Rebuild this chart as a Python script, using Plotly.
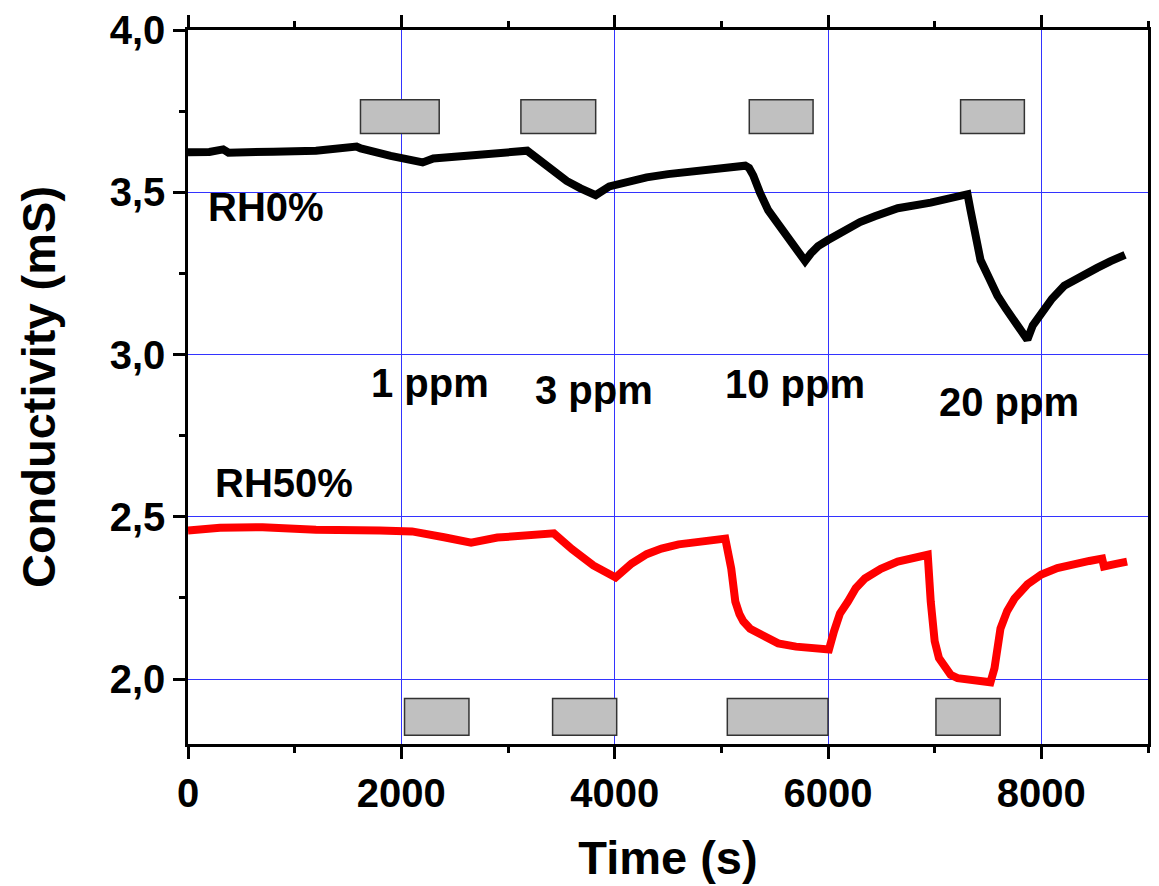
import plotly.graph_objects as go

# ---- data ----
t_rh0 = [0, 200, 330, 380, 800, 1200, 1580, 1620, 1900, 2200, 2300, 2600, 3000, 3180, 3300, 3420, 3550, 3680,
         3822, 3950, 4100, 4300, 4500, 4800, 5100, 5224, 5260, 5299, 5364, 5439, 5520, 5598, 5690, 5785, 5840, 5907, 6000,
         6100, 6187, 6300, 6439, 6654, 6963, 7280, 7308, 7336, 7383, 7430, 7510, 7589, 7670, 7748, 7869, 7920, 8000,
         8100, 8215, 8370, 8523, 8650, 8785]
c_rh0 = [3.623, 3.624, 3.632, 3.622, 3.625, 3.628, 3.641, 3.635, 3.612, 3.592, 3.604, 3.613, 3.622, 3.628, 3.598, 3.566, 3.535, 3.512,
         3.491, 3.518, 3.532, 3.546, 3.556, 3.568, 3.578, 3.582, 3.575, 3.552, 3.497, 3.445, 3.408, 3.374, 3.332, 3.288, 3.312, 3.334, 3.353,
         3.372, 3.390, 3.408, 3.426, 3.451, 3.468, 3.491, 3.494, 3.445, 3.374, 3.291, 3.236, 3.181, 3.140, 3.107, 3.046, 3.090, 3.129,
         3.172, 3.212, 3.243, 3.267, 3.288, 3.307]

t_rh50 = [0, 300, 700, 1200, 1800, 2100, 2400, 2654, 2900, 3200, 3430, 3600, 3800, 4009, 4100, 4159, 4300,
          4439, 4600, 4757, 4900, 5037, 5093, 5131, 5170, 5206, 5270, 5346, 5440, 5533, 5700, 5850, 6009, 6056, 6112,
          6187, 6260, 6346, 6495, 6654, 6813, 6935, 6963, 7000, 7040, 7093, 7150, 7215, 7350, 7523, 7561, 7617,
          7680, 7748, 7870, 8000, 8150, 8308, 8450, 8570, 8587, 8700, 8804]
c_rh50 = [2.458, 2.466, 2.468, 2.460, 2.458, 2.455, 2.437, 2.420, 2.436, 2.444, 2.449, 2.400, 2.350, 2.313, 2.340, 2.356, 2.385,
          2.402, 2.415, 2.423, 2.429, 2.433, 2.340, 2.239, 2.200, 2.178, 2.155, 2.141, 2.124, 2.110, 2.100, 2.095, 2.091, 2.147, 2.202,
          2.239, 2.280, 2.310, 2.340, 2.362, 2.374, 2.383, 2.239, 2.117, 2.065, 2.034, 2.013, 2.003, 1.996, 1.990, 2.034, 2.156,
          2.210, 2.248, 2.292, 2.322, 2.342, 2.356, 2.364, 2.371, 2.347, 2.355, 2.362]

# gas exposure windows (grey boxes)
top_box_start = [1617, 3121, 5262, 7243]
top_box_end = [2355, 3822, 5860, 7841]
top_box_y = [3.681, 3.785]
bot_box_start = [2030, 3418, 5056, 7012]
bot_box_end = [2634, 4019, 6000, 7614]
bot_box_y = [1.827, 1.940]

conc_labels = ["1 ppm", "3 ppm", "10 ppm", "20 ppm"]
conc_x = [2271, 3804, 5692, 7701]
conc_y = [2.911, 2.890, 2.908, 2.853]
rh_labels = ["RH0%", "RH50%"]
rh_x = [729, 897]
rh_y = [3.454, 2.604]

FONT = "Liberation Sans"

fig = go.Figure()
fig.add_trace(go.Scatter(x=t_rh0, y=c_rh0, mode="lines", line=dict(color="black", width=8),
                         showlegend=False))
fig.add_trace(go.Scatter(x=t_rh50, y=c_rh50, mode="lines", line=dict(color="#ff0000", width=8),
                         showlegend=False))

for s, e in zip(top_box_start, top_box_end):
    fig.add_shape(type="rect", xref="x", yref="y", x0=s, x1=e, y0=top_box_y[0], y1=top_box_y[1],
                  fillcolor="#c0c0c0", line=dict(color="#333333", width=1.5), layer="above")
for s, e in zip(bot_box_start, bot_box_end):
    fig.add_shape(type="rect", xref="x", yref="y", x0=s, x1=e, y0=bot_box_y[0], y1=bot_box_y[1],
                  fillcolor="#c0c0c0", line=dict(color="#333333", width=1.5), layer="above")

for txt, x, y in zip(conc_labels + rh_labels, conc_x + rh_x, conc_y + rh_y):
    fig.add_annotation(x=x, y=y, xref="x", yref="y", text=txt, showarrow=False,
                       font=dict(family=FONT, size=40, color="black", weight="bold"),
                       xanchor="center", yanchor="middle")

fig.update_layout(
    width=1159, height=886,
    margin=dict(l=188, r=8, t=26, b=142),
    paper_bgcolor="white", plot_bgcolor="white",
    separators=", ",
    font=dict(family=FONT, color="black"),
)
fig.update_xaxes(
    range=[0, 9000], tick0=0, dtick=2000,
    showline=True, linecolor="black", linewidth=2.5, mirror="ticks",
    ticks="outside", ticklen=12, tickwidth=2.5, tickcolor="black",
    minor=dict(dtick=1000, ticks="outside", ticklen=6, tickwidth=2.5, tickcolor="black", showgrid=False),
    showgrid=True, gridcolor="#3333ff", gridwidth=1, zeroline=False,
    tickfont=dict(family=FONT, size=40, color="black", weight="bold"),
    title=dict(text="Time (s)", font=dict(family=FONT, size=47, color="black", weight="bold"), standoff=28),
)
fig.update_yaxes(
    range=[1.8, 4.0], tick0=0, dtick=0.5, tickformat=".1f",
    showline=True, linecolor="black", linewidth=2.5, mirror=True,
    ticks="outside", ticklen=12, tickwidth=2.5, tickcolor="black",
    minor=dict(dtick=0.25, ticks="outside", ticklen=6, tickwidth=2.5, tickcolor="black", showgrid=False),
    showgrid=True, gridcolor="#3333ff", gridwidth=1, zeroline=False,
    tickfont=dict(family=FONT, size=40, color="black", weight="bold"),
    title=dict(text="Conductivity (mS)", font=dict(family=FONT, size=47, color="black", weight="bold"), standoff=40),
)

fig.write_html("out.html")
